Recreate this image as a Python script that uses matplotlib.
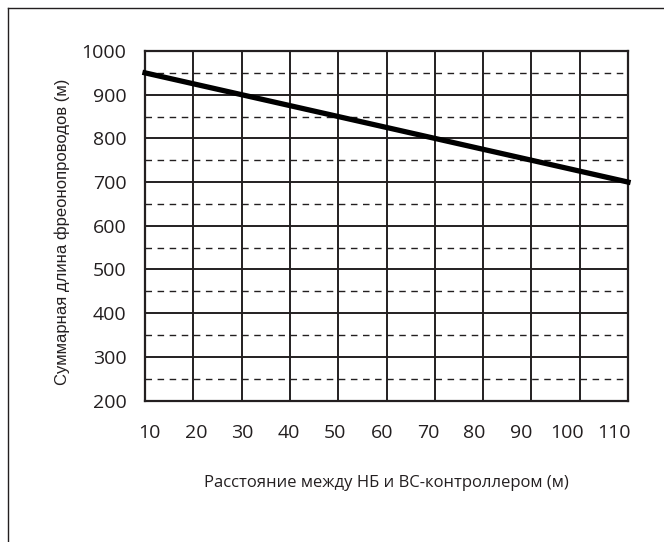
import numpy as np
import matplotlib.pyplot as plt
from matplotlib.lines import Line2D

# data
dist = [10, 110]            # distance NB - BC controller (m)
total_len = [950, 700]      # total refrigerant piping length (m)
x_ticks = [10, 20, 30, 40, 50, 60, 70, 80, 90, 100, 110]
y_ticks = [200, 300, 400, 500, 600, 700, 800, 900, 1000]
y_half = [250, 350, 450, 550, 650, 750, 850, 950]

ink = '#231f20'

fig = plt.figure(figsize=(6.64, 5.42), dpi=100)
ax = fig.add_axes([145/664, 1-400.5/542, 483/664, 349.5/542])

ax.set_xlim(10, 110)
ax.set_ylim(200, 1000)

# grid
for x in x_ticks:
    ax.axvline(x, color=ink, lw=1.4, zorder=1)
for y in y_ticks:
    ax.axhline(y, color=ink, lw=1.4, zorder=1)
for y in y_half:
    l, = ax.plot([10, 110], [y, y], color=ink, lw=1.0, zorder=1)
    l.set_dashes((4.7, 4.0))

ax.plot(dist, total_len, color='black', lw=3.8, solid_capstyle='projecting',
        clip_on=False, zorder=3)

for s in ax.spines.values():
    s.set_color(ink)
    s.set_linewidth(1.6)

# labels of the x axis sit slightly off the grid lines in the original
lab_pos = np.linspace(11, 107, len(x_ticks))
ax.set_xticks(lab_pos)
ax.set_xticklabels([str(v) for v in x_ticks])
ax.set_yticks(y_ticks)
ax.set_yticklabels([str(v) for v in y_ticks])
ax.tick_params(length=0, labelsize=14, colors=ink, pad=0)
ax.tick_params(axis='y', pad=13.5)
ax.tick_params(axis='x', pad=17)
for t in ax.get_xticklabels() + ax.get_yticklabels():
    t.set_fontfamily('Open Sans')

fig.text(386/664, 1-483/542, 'Расстояние между НБ и ВС-контроллером (м)',
         fontsize=12, family='Open Sans', color=ink, ha='center', va='center')
fig.text(62/664, 1-232/542, 'Суммарная длина фреонопроводов (м)',
         fontsize=12, family='Liberation Sans', color=ink, rotation=90,
         ha='center', va='center')

# outer frame (only left and top edges visible)
fig.add_artist(Line2D([8/664, 8/664], [0, 1-8/542], transform=fig.transFigure,
                      color=ink, lw=1.0))
fig.add_artist(Line2D([8/664, 1], [1-8/542, 1-8/542], transform=fig.transFigure,
                      color=ink, lw=1.0))

fig.savefig('out.png', dpi=100)
